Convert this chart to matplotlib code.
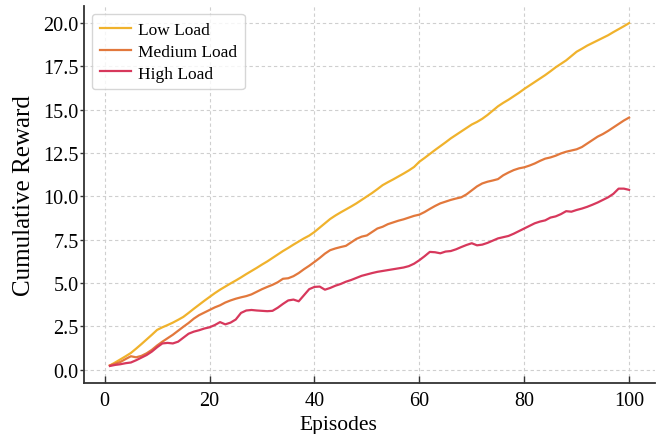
import numpy as np
import matplotlib
matplotlib.use("Agg")
import matplotlib.pyplot as plt

episodes = list(range(1, 101))

low_load = [
    0.25, 0.42, 0.60, 0.78, 0.97, 1.22, 1.48, 1.75, 2.02, 2.30,
    2.45, 2.58, 2.72, 2.88, 3.05, 3.28, 3.52, 3.75, 3.98, 4.20,
    4.42, 4.62, 4.80, 4.98, 5.15, 5.33, 5.52, 5.70, 5.88, 6.07,
    6.25, 6.45, 6.65, 6.85, 7.03, 7.22, 7.40, 7.58, 7.74, 7.95,
    8.20, 8.45, 8.70, 8.90, 9.08, 9.25, 9.42, 9.60, 9.80, 10.00,
    10.20, 10.42, 10.65, 10.82, 10.98, 11.15, 11.32, 11.50, 11.70, 12.00,
    12.22, 12.45, 12.68, 12.90, 13.12, 13.35, 13.55, 13.75, 13.95, 14.15,
    14.30, 14.48, 14.70, 14.95, 15.20, 15.40, 15.58, 15.78, 15.98, 16.20,
    16.40, 16.60, 16.80, 17.00, 17.22, 17.45, 17.65, 17.85, 18.10, 18.35,
    18.52, 18.70, 18.85, 19.00, 19.15, 19.30, 19.48, 19.65, 19.82, 20.00,
]

medium_load = [
    0.25, 0.35, 0.45, 0.62, 0.78, 0.72, 0.80, 0.95, 1.15, 1.40,
    1.62, 1.82, 2.02, 2.25, 2.48, 2.70, 2.95, 3.15, 3.30, 3.45,
    3.60, 3.72, 3.88, 4.00, 4.10, 4.18, 4.25, 4.35, 4.50, 4.65,
    4.78, 4.90, 5.05, 5.25, 5.28, 5.40, 5.58, 5.80, 6.00, 6.22,
    6.45, 6.70, 6.90, 7.00, 7.08, 7.15, 7.35, 7.55, 7.68, 7.75,
    7.95, 8.15, 8.25, 8.40, 8.50, 8.60, 8.68, 8.78, 8.88, 8.95,
    9.10, 9.28, 9.45, 9.60, 9.70, 9.80, 9.88, 9.95, 10.12, 10.35,
    10.58, 10.75, 10.85, 10.92, 11.00, 11.22, 11.38, 11.52, 11.62, 11.68,
    11.78, 11.90, 12.05, 12.18, 12.25, 12.35, 12.48, 12.58, 12.65, 12.72,
    12.85, 13.05, 13.25, 13.45, 13.60, 13.78, 13.98, 14.18, 14.38, 14.55,
]

high_load = [
    0.22, 0.28, 0.32, 0.38, 0.42, 0.55, 0.70, 0.85, 1.05, 1.30,
    1.52, 1.55, 1.52, 1.62, 1.85, 2.08, 2.20, 2.28, 2.38, 2.45,
    2.58, 2.75, 2.62, 2.72, 2.90, 3.28, 3.42, 3.45, 3.42, 3.40,
    3.38, 3.40, 3.58, 3.80, 4.00, 4.05, 3.95, 4.30, 4.65, 4.78,
    4.80, 4.62, 4.72, 4.85, 4.95, 5.08, 5.18, 5.30, 5.42, 5.50,
    5.58, 5.65, 5.70, 5.75, 5.80, 5.85, 5.90, 5.98, 6.12, 6.32,
    6.55, 6.80, 6.78, 6.72, 6.82, 6.85, 6.95, 7.08, 7.20, 7.30,
    7.18, 7.22, 7.32, 7.45, 7.58, 7.65, 7.72, 7.85, 8.00, 8.15,
    8.30, 8.45, 8.55, 8.62, 8.78, 8.85, 8.98, 9.15, 9.12, 9.22,
    9.30, 9.40, 9.52, 9.65, 9.80, 9.95, 10.15, 10.45, 10.45, 10.38,
]

series_names = ["Low Load", "Medium Load", "High Load"]
series_colors = ["#f0b22c", "#e2783c", "#d7385c"]
x_ticks = [0, 20, 40, 60, 80, 100]
y_ticks = [0.0, 2.5, 5.0, 7.5, 10.0, 12.5, 15.0, 17.5, 20.0]

plt.rcParams['font.family'] = ['Liberation Serif', 'DejaVu Serif']

fig = plt.figure(figsize=(6.61, 4.35), dpi=100)
ax = fig.add_axes([0.127, 0.117, 0.864, 0.867])

for vals, name, col in zip([low_load, medium_load, high_load], series_names, series_colors):
    ax.plot(episodes, vals, color=col, lw=1.6, label=name)

ax.set_xticks(x_ticks)
ax.set_yticks(y_ticks)
ax.set_yticklabels([f"{v:.1f}" for v in y_ticks])

ax.grid(True, linestyle=(0, (3, 2.5)), color='#cfcfcf', linewidth=0.8)
ax.set_axisbelow(True)
for s in ['top', 'right']:
    ax.spines[s].set_visible(False)
for s in ['left', 'bottom']:
    ax.spines[s].set_color('#333333')
    ax.spines[s].set_linewidth(1.3)

ax.tick_params(axis='x', direction='in', length=5, width=1, colors='#333333',
               labelsize=14.5, labelcolor='black', pad=6)
ax.tick_params(axis='y', direction='out', length=3, width=1, colors='#333333',
               labelsize=14.5, labelcolor='black', pad=1)

ax.set_xlabel("Episodes", fontsize=15.5, labelpad=2)
ax.xaxis.set_label_coords(0.445, -0.085)
ax.set_ylabel("Cumulative Reward", fontsize=18, labelpad=5.5)

leg = ax.legend(loc='upper left', fontsize=12.5, frameon=True, fancybox=True,
                handlelength=1.8, handletextpad=0.4, labelspacing=0.33,
                borderpad=0.45, borderaxespad=0.45)
leg.get_frame().set_edgecolor('#cccccc')
leg.get_frame().set_linewidth(1.0)

fig.savefig("out.png", dpi=100)
